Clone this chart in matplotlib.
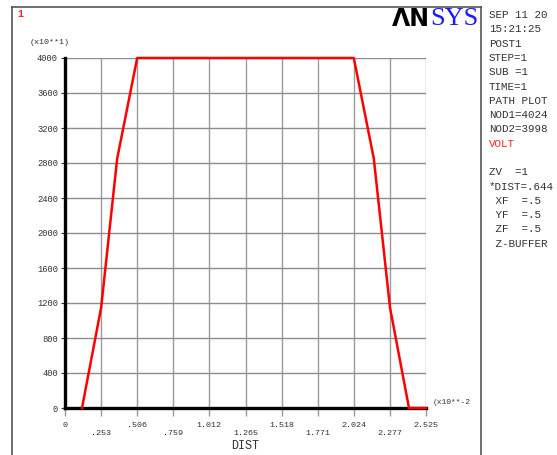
import matplotlib
matplotlib.use('Agg')
import matplotlib.pyplot as plt
from matplotlib.lines import Line2D

# path data (DIST in x10**-2, VOLT in x10**1)
dist = [0.119, 0.253, 0.365, 0.505, 2.020, 2.160, 2.273, 2.406, 2.525]
volt = [0, 1150, 2850, 4000, 4000, 2850, 1150, 0, 0]

xtick_vals = [i * 0.2525 for i in range(11)]
xtick_labels = ['0', '.253', '.506', '.759', '1.012', '1.265', '1.518',
                '1.771', '2.024', '2.277', '2.525']
ytick_vals = list(range(0, 4001, 400))

side_text = ['SEP 11 20', '15:21:25', 'POST1', 'STEP=1', 'SUB =1', 'TIME=1',
             'PATH PLOT', 'NOD1=4024', 'NOD2=3998', 'VOLT', '',
             'ZV  =1', '*DIST=.644', ' XF  =.5', ' YF  =.5', ' ZF  =.5',
             ' Z-BUFFER']

W, H = 557, 455
mono = 'Liberation Mono'

fig = plt.figure(figsize=(W / 100, H / 100), dpi=100)
fig.patch.set_facecolor('white')

def fx(px):
    return px / W

def fy(py):
    return 1 - py / H

# outer frame
frame_c = '#555555'
fig.add_artist(Line2D([fx(12), fx(12)], [fy(7), 0], color=frame_c, lw=1.2))
fig.add_artist(Line2D([fx(12), fx(481)], [fy(7), fy(7)], color=frame_c, lw=1.2))
fig.add_artist(Line2D([fx(481), fx(481)], [fy(7), 0], color=frame_c, lw=1.2))

ax = fig.add_axes([fx(65), 1 - 408 / H, fx(426) - fx(65), (408 - 58) / H])
ax.set_xlim(0, 2.525)
ax.set_ylim(0, 4000)

for x in xtick_vals[1:]:
    ax.axvline(x, color='#9a9a9a', lw=1.0, zorder=1)
for y in ytick_vals[1:]:
    ax.axhline(y, color='#8c8c8c', lw=1.0, zorder=1)

ax.plot(dist, volt, color='#ff0000', lw=1.8, zorder=4, clip_on=False)

for s in ['top', 'right']:
    ax.spines[s].set_visible(False)
ax.spines['left'].set_linewidth(2.4)
ax.spines['bottom'].set_linewidth(2.4)
ax.spines['left'].set_zorder(3)
ax.spines['bottom'].set_zorder(3)

ax.set_xticks(xtick_vals)
ax.set_xticklabels([lab if i % 2 == 0 else '\n' + lab
                    for i, lab in enumerate(xtick_labels)],
                   fontfamily=mono, fontsize=6, color='#333333',
                   linespacing=1.3)
ax.tick_params(axis='x', direction='out', length=6, width=1.0,
               color='#9a9a9a', pad=4)
ax.set_yticks(ytick_vals)
ax.set_yticklabels([str(v) for v in ytick_vals], fontfamily=mono,
                   fontsize=6.3, color='#333333')
ax.tick_params(axis='y', direction='out', length=3, width=0.8,
               color='#333333', pad=2)

fig.text(fx(245), fy(446), 'DIST', fontfamily=mono, fontsize=8.5,
         color='#333333', ha='center', va='center')
fig.text(fx(30), fy(43), '(x10**1)', fontfamily=mono, fontsize=6,
         color='#333333', ha='left', va='center')
fig.text(fx(433), fy(403), '(x10**-2', fontfamily=mono, fontsize=5.8,
         color='#333333', ha='left', va='center')

fig.text(fx(17), fy(14), '1', fontfamily=mono, fontsize=7, color='#ff2020',
         fontweight='bold', ha='left', va='center')

# logo
fig.text(fx(430), fy(19), '\u039bN', fontfamily='DejaVu Sans', fontsize=17,
         fontweight='bold', color='black', ha='right', va='center')
fig.text(fx(430), fy(19), 'SYS', fontfamily='Liberation Serif', fontsize=19,
         color='#1a1aff', ha='left', va='center')

for i, line in enumerate(side_text):
    if not line:
        continue
    c = '#ff2020' if line == 'VOLT' else '#333333'
    fig.text(fx(489), fy(15 + i * 14.3), line, fontfamily=mono, fontsize=7.8,
             color=c, ha='left', va='center')

fig.savefig('out.png', dpi=100)
